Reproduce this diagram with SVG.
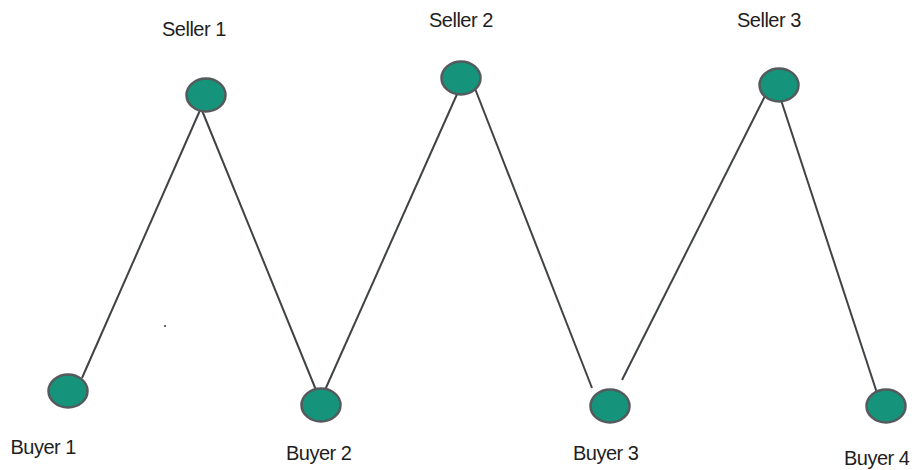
<svg xmlns="http://www.w3.org/2000/svg" width="916" height="470" viewBox="0 0 916 470">
<style>
.node{fill:#15937b;stroke:#555a5c;stroke-width:2.5}
.edge{stroke:#3f4346;stroke-width:2;fill:none}
.lbl{font-family:"Liberation Sans",Arial,sans-serif;font-size:20px;letter-spacing:-0.5px;fill:#1e1e1e}
</style>
<rect width="916" height="470" fill="#ffffff"/>
<g id="connectors">
<line class="edge" x1="82" y1="378" x2="201" y2="108"/>
<line class="edge" x1="201" y1="108" x2="316" y2="390"/>
<line class="edge" x1="325" y1="390" x2="458" y2="92"/>
<line class="edge" x1="474" y1="86" x2="592" y2="388"/>
<line class="edge" x1="622" y1="380" x2="765" y2="96"/>
<line class="edge" x1="781" y1="100" x2="877" y2="393"/>
<line class="edge" x1="460" y1="61" x2="460" y2="64"/>
</g>
<circle cx="165" cy="326" r="1" fill="#333"/>
<g id="seller1"><ellipse class="node" cx="206" cy="95" rx="19.5" ry="16.5"/><text class="lbl" x="162" y="35.5">Seller 1</text></g>
<g id="seller2"><ellipse class="node" cx="461" cy="78" rx="19.5" ry="16.5"/><text class="lbl" x="429" y="27">Seller 2</text></g>
<g id="seller3"><ellipse class="node" cx="779" cy="85" rx="19.5" ry="16.5"/><text class="lbl" x="737" y="27">Seller 3</text></g>
<g id="buyer1"><ellipse class="node" cx="68" cy="391" rx="19.5" ry="16.5"/><text class="lbl" x="10.5" y="454">Buyer 1</text></g>
<g id="buyer2"><ellipse class="node" cx="321" cy="405" rx="19.5" ry="16.5"/><text class="lbl" x="286" y="460">Buyer 2</text></g>
<g id="buyer3"><ellipse class="node" cx="610" cy="406" rx="19.5" ry="16.5"/><text class="lbl" x="573" y="460">Buyer 3</text></g>
<g id="buyer4"><ellipse class="node" cx="886" cy="406" rx="19.5" ry="16.5"/><text class="lbl" x="844" y="465">Buyer 4</text></g>
</svg>
